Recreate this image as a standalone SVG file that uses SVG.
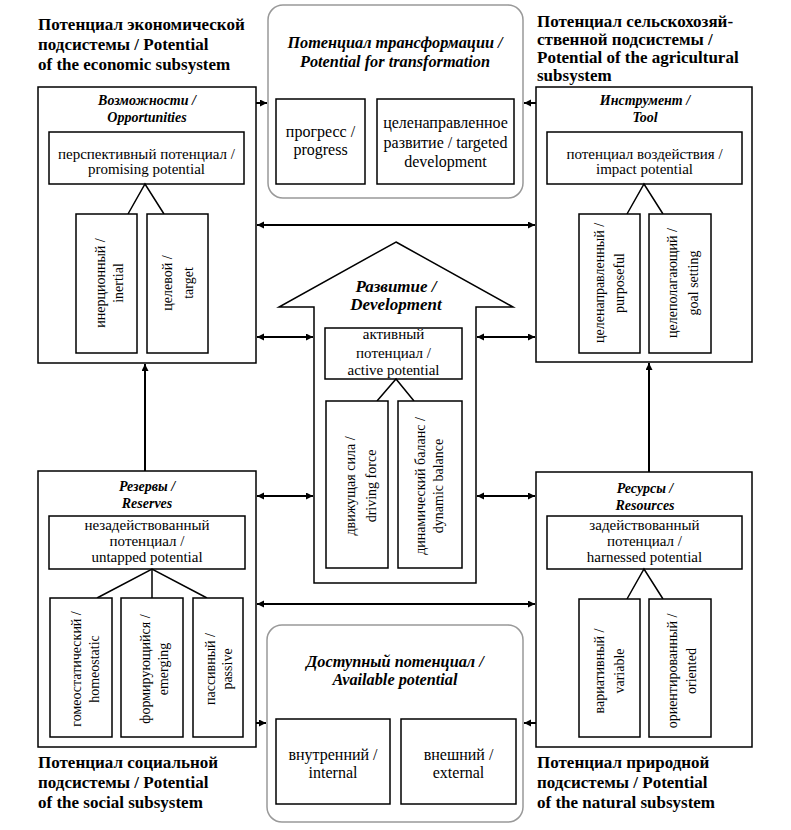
<svg xmlns="http://www.w3.org/2000/svg" width="791" height="830" viewBox="0 0 791 830" font-family="'Liberation Serif', Tinos, 'Times New Roman', 'DejaVu Serif', serif">
<defs>
<marker id="ah" markerUnits="userSpaceOnUse" markerWidth="8" markerHeight="8" refX="7" refY="3.5" orient="auto-start-reverse">
<path d="M0,0 L7,3.5 L0,7 z" fill="#000"/>
</marker>
</defs>
<style>
text{font-family:'Liberation Serif', Tinos, 'Times New Roman', 'DejaVu Serif', serif;fill:#000}
.t{font-size:15px;text-anchor:middle}
.g{font-size:16px;text-anchor:middle}
.v{font-size:14px;text-anchor:middle}
.h{font-size:14px;font-weight:bold;font-style:italic;text-anchor:middle}
.h2{font-size:16.3px;font-weight:bold;font-style:italic;text-anchor:middle}
.cap{font-size:17px;font-weight:bold}
.box{fill:#fff;stroke:#000;stroke-width:1.5}
.grey{fill:#fff;stroke:#999;stroke-width:1.5}
.ln{fill:none;stroke:#000;stroke-width:1.5}
.c{fill:none;stroke:#000;stroke-width:2}
</style>
<rect width="791" height="830" fill="#fff"/>

<g id="caption-economic">
<text class="cap" x="38" y="30">Потенциал экономической</text>
<text class="cap" x="38" y="50">подсистемы / Potential</text>
<text class="cap" x="38" y="70">of the economic subsystem</text>
</g>
<g id="caption-agricultural">
<text class="cap" x="537" y="27">Потенциал сельскохозяй-</text>
<text class="cap" x="537" y="45">ственной подсистемы  /</text>
<text class="cap" x="537" y="63">Potential of the agricultural</text>
<text class="cap" x="537" y="81">subsystem</text>
</g>
<g id="caption-social">
<text class="cap" x="38" y="768">Потенциал социальной</text>
<text class="cap" x="38" y="788">подсистемы / Potential</text>
<text class="cap" x="38" y="808">of the social subsystem</text>
</g>
<g id="caption-natural">
<text class="cap" x="537" y="768">Потенциал природной</text>
<text class="cap" x="537" y="788">подсистемы / Potential</text>
<text class="cap" x="537" y="808">of the natural subsystem</text>
</g>

<g id="transformation">
<rect class="grey" x="268" y="5" width="255" height="193" rx="15"/>
<text class="h2" x="395" y="48">Потенциал трансформации /</text>
<text class="h2" x="395" y="67">Potential for transformation</text>
<rect class="box" x="276" y="99" width="89" height="85"/>
<text class="g" x="320.5" y="137">прогресс /</text>
<text class="g" x="320.5" y="155">progress</text>
<rect class="box" x="377" y="99" width="137" height="85"/>
<text class="g" x="445.5" y="128">целенаправленное</text>
<text class="g" x="445.5" y="148">развитие / targeted</text>
<text class="g" x="445.5" y="167">development</text>
</g>

<g id="available">
<rect class="grey" x="267" y="625" width="256" height="197" rx="15"/>
<text class="h2" x="395" y="667">Доступный потенциал /</text>
<text class="h2" x="395" y="685">Available potential</text>
<rect class="box" x="276" y="719" width="114" height="85"/>
<text class="g" x="333" y="760">внутренний /</text>
<text class="g" x="333" y="778">internal</text>
<rect class="box" x="401" y="719" width="115" height="85"/>
<text class="g" x="458.5" y="760">внешний /</text>
<text class="g" x="458.5" y="778">external</text>
</g>

<g id="opportunities">
<rect class="box" x="38" y="87" width="218" height="276"/>
<text class="h" x="147" y="105">Возможности /</text>
<text class="h" x="147" y="122">Opportunities</text>
<rect class="box" x="49" y="132" width="195" height="52"/>
<text class="t" x="146.5" y="159">перспективный потенциал /</text>
<text class="t" x="146.5" y="174">promising potential</text>
<polyline class="ln" points="128,214 145,184 164,214"/>
<rect class="box" x="76" y="214" width="61" height="139"/>
<text class="v" transform="translate(0,283) rotate(-90)" x="0" y="105">инерционный /</text>
<text class="v" transform="translate(0,283) rotate(-90)" x="0" y="123">inertial</text>
<rect class="box" x="147" y="214" width="61" height="139"/>
<text class="v" transform="translate(0,283) rotate(-90)" x="0" y="172">целевой /</text>
<text class="v" transform="translate(0,283) rotate(-90)" x="0" y="193">target</text>
</g>

<g id="tool">
<rect class="box" x="536" y="87" width="216" height="275"/>
<text class="h" x="645" y="105">Инструмент /</text>
<text class="h" x="645" y="122">Tool</text>
<rect class="box" x="547" y="132" width="195" height="52"/>
<text class="t" x="644.5" y="159">потенциал воздействия /</text>
<text class="t" x="644.5" y="174">impact potential</text>
<polyline class="ln" points="627,214 644,184 663,214"/>
<rect class="box" x="579" y="214" width="61" height="139"/>
<text class="v" transform="translate(0,283) rotate(-90)" x="0" y="604">целенаправленный /</text>
<text class="v" transform="translate(0,283) rotate(-90)" x="0" y="624">purposeful</text>
<rect class="box" x="649" y="214" width="62" height="139"/>
<text class="v" transform="translate(0,283) rotate(-90)" x="0" y="677">целеполагающий /</text>
<text class="v" transform="translate(0,283) rotate(-90)" x="0" y="698">goal setting</text>
</g>

<g id="development">
<polygon class="box" points="396,242 513,307 476,307 476,583 314,583 314,307 279,307"/>
<text class="h2" x="396" y="292" style="font-size:17px">Развитие /</text>
<text class="h2" x="396" y="310" style="font-size:17px">Development</text>
<rect class="box" x="325" y="328" width="137" height="51"/>
<text class="t" x="393.5" y="339">активный</text>
<text class="t" x="393.5" y="358">потенциал /</text>
<text class="t" x="393.5" y="375">active potential</text>
<polyline class="ln" points="377,401 396,379 414,401"/>
<rect class="box" x="326" y="401" width="62" height="167"/>
<text class="v" transform="translate(0,486) rotate(-90)" x="0" y="355">движущая сила /</text>
<text class="v" transform="translate(0,486) rotate(-90)" x="0" y="376">driving force</text>
<rect class="box" x="398" y="401" width="64" height="167"/>
<text class="v" transform="translate(0,486) rotate(-90)" x="0" y="425">динамический баланс /</text>
<text class="v" transform="translate(0,486) rotate(-90)" x="0" y="443">dynamic balance</text>
</g>

<g id="reserves">
<rect class="box" x="38" y="471" width="218" height="276"/>
<text class="h" x="147" y="491">Резервы /</text>
<text class="h" x="147" y="508">Reserves</text>
<rect class="box" x="49" y="516" width="196" height="53"/>
<text class="t" x="147" y="530">незадействованный</text>
<text class="t" x="147" y="546">потенциал /</text>
<text class="t" x="147" y="562">untapped potential</text>
<polyline class="ln" points="97,598 152,569 207,598"/>
<line class="ln" x1="152" y1="569" x2="152" y2="598"/>
<rect class="box" x="50" y="598" width="62" height="139"/>
<text class="v" transform="translate(0,669) rotate(-90)" x="0" y="81">гомеостатический /</text>
<text class="v" transform="translate(0,669) rotate(-90)" x="0" y="99">homeostatic</text>
<rect class="box" x="121" y="598" width="62" height="139"/>
<text class="v" transform="translate(0,669) rotate(-90)" x="0" y="150">формирующийся /</text>
<text class="v" transform="translate(0,669) rotate(-90)" x="0" y="168">emerging</text>
<rect class="box" x="193" y="598" width="50" height="139"/>
<text class="v" transform="translate(0,669) rotate(-90)" x="0" y="215">пассивный /</text>
<text class="v" transform="translate(0,669) rotate(-90)" x="0" y="232">passive</text>
</g>

<g id="resources">
<rect class="box" x="536" y="472" width="216" height="275"/>
<text class="h" x="645" y="493">Ресурсы /</text>
<text class="h" x="645" y="510">Resources</text>
<rect class="box" x="547" y="516" width="195" height="53"/>
<text class="t" x="644.5" y="530">задействованный</text>
<text class="t" x="644.5" y="546">потенциал /</text>
<text class="t" x="644.5" y="562">harnessed potential</text>
<polyline class="ln" points="627,599 644,569 663,599"/>
<rect class="box" x="579" y="599" width="61" height="138"/>
<text class="v" transform="translate(0,671) rotate(-90)" x="0" y="604">вариативный /</text>
<text class="v" transform="translate(0,671) rotate(-90)" x="0" y="624">variable</text>
<rect class="box" x="649" y="599" width="62" height="138"/>
<text class="v" transform="translate(0,671) rotate(-90)" x="0" y="677">ориентированный /</text>
<text class="v" transform="translate(0,671) rotate(-90)" x="0" y="696">oriented</text>
</g>

<g id="connectors">
<line class="c" x1="256" y1="103" x2="267" y2="103" marker-end="url(#ah)"/>
<line class="c" x1="536" y1="103" x2="524" y2="103" marker-end="url(#ah)"/>
<line class="c" x1="257" y1="225" x2="535" y2="225" marker-start="url(#ah)" marker-end="url(#ah)"/>
<line class="c" x1="257" y1="337" x2="313" y2="337" marker-start="url(#ah)" marker-end="url(#ah)"/>
<line class="c" x1="477" y1="337" x2="535" y2="337" marker-start="url(#ah)" marker-end="url(#ah)"/>
<line class="c" x1="257" y1="496" x2="313" y2="496" marker-start="url(#ah)" marker-end="url(#ah)"/>
<line class="c" x1="477" y1="496" x2="535" y2="496" marker-start="url(#ah)" marker-end="url(#ah)"/>
<line class="c" x1="257" y1="604" x2="535" y2="604" marker-start="url(#ah)" marker-end="url(#ah)"/>
<line class="c" x1="256" y1="723" x2="266" y2="723" marker-end="url(#ah)"/>
<line class="c" x1="536" y1="723" x2="524" y2="723" marker-end="url(#ah)"/>
<line class="c" x1="145" y1="471" x2="145" y2="364" marker-end="url(#ah)"/>
<line class="c" x1="649" y1="472" x2="649" y2="363" marker-end="url(#ah)"/>
</g>
</svg>
